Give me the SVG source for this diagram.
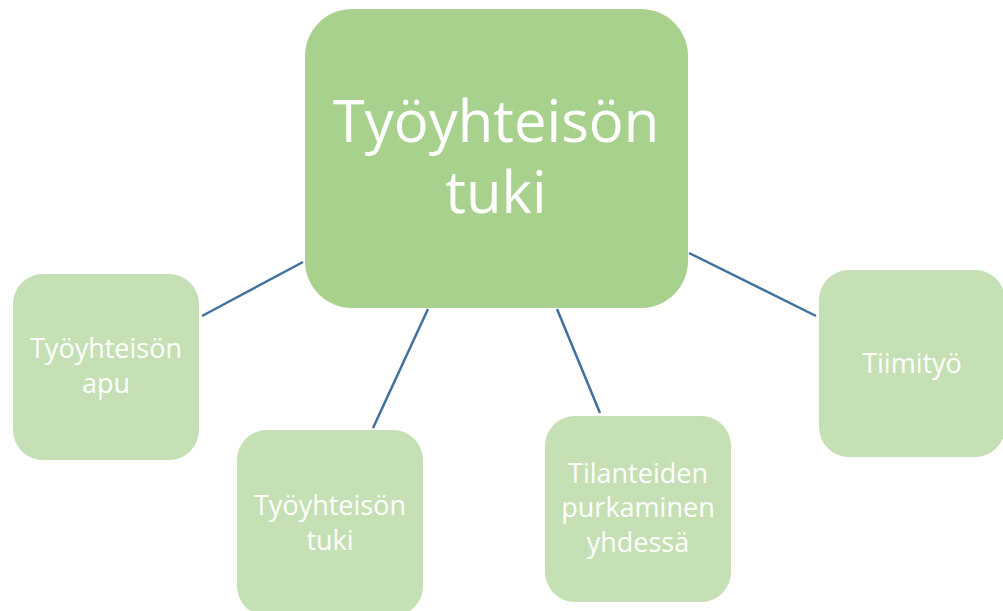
<svg xmlns="http://www.w3.org/2000/svg" width="1003" height="611" viewBox="0 0 1003 611">
<style>
.main{fill:#A9D18E}
.sub{fill:#C5E0B4}
.t{fill:#FFFFFF;font-family:"Open Sans","Liberation Sans",sans-serif;text-anchor:middle}
.big{font-size:58px}
.small{font-size:27px}
.conn{stroke:#41719C;stroke-width:2.5;fill:none}
</style>
<rect width="1003" height="611" fill="#FFFFFF"/>
<g id="connectors">
<line class="conn" x1="202" y1="316" x2="303" y2="262"/>
<line class="conn" x1="373" y1="428" x2="428" y2="309"/>
<line class="conn" x1="557" y1="309" x2="600" y2="413"/>
<line class="conn" x1="689" y1="253" x2="816" y2="316"/>
</g>
<g id="center">
<rect class="main" x="305" y="9" width="383" height="299" rx="47" ry="47"/>
<text class="t big" x="496" y="142">Työyhteisön</text>
<text class="t big" x="496" y="213">tuki</text>
</g>
<g id="apu">
<rect class="sub" x="13" y="274" width="186" height="186" rx="30" ry="30"/>
<text class="t small" x="106" y="358">Työyhteisön</text>
<text class="t small" x="106" y="393">apu</text>
</g>
<g id="tuki">
<rect class="sub" x="237" y="430" width="186" height="186" rx="30" ry="30"/>
<text class="t small" x="330" y="515">Työyhteisön</text>
<text class="t small" x="330" y="550">tuki</text>
</g>
<g id="purkaminen">
<rect class="sub" x="545" y="416" width="186" height="186" rx="30" ry="30"/>
<text class="t small" x="638" y="483">Tilanteiden</text>
<text class="t small" x="638" y="517">purkaminen</text>
<text class="t small" x="638" y="552">yhdessä</text>
</g>
<g id="tiimityo">
<rect class="sub" x="819" y="270" width="186" height="187" rx="30" ry="30"/>
<text class="t small" x="912" y="373">Tiimityö</text>
</g>
</svg>
